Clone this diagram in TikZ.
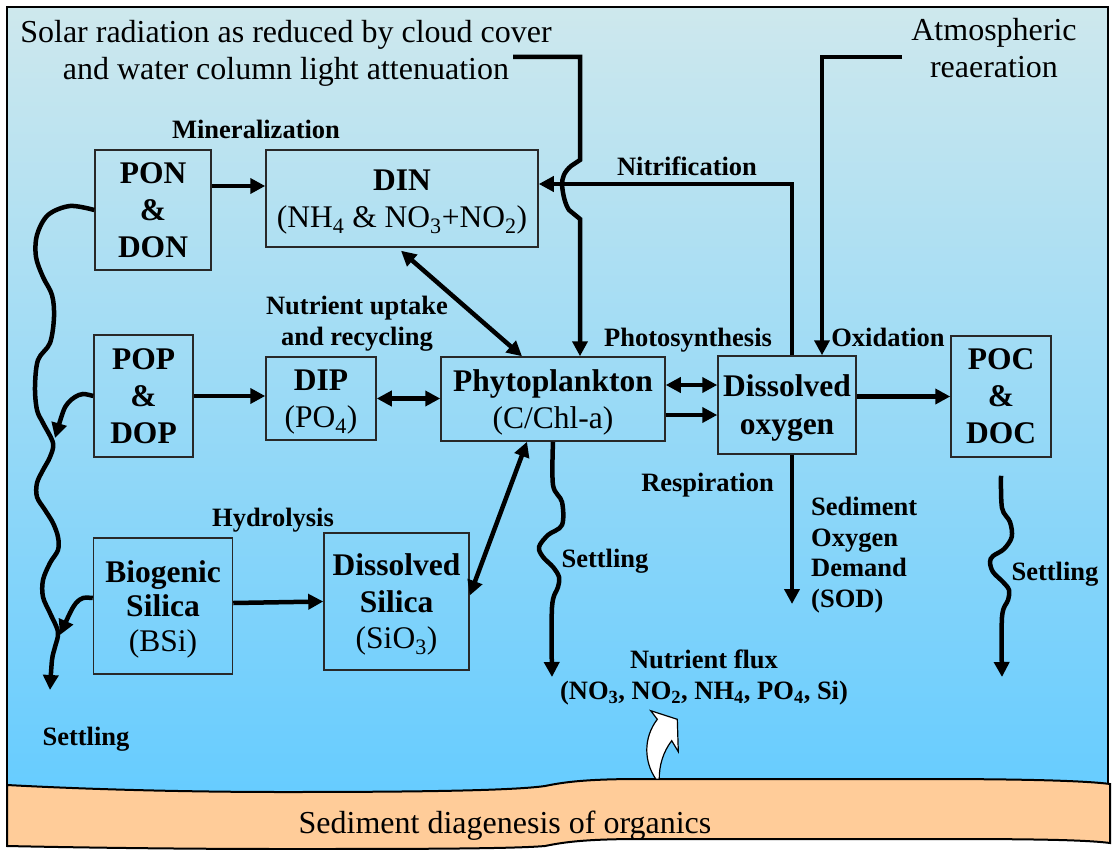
\documentclass[tikz,border=0pt]{standalone}
\usepackage{fontspec}
\setmainfont{Liberation Serif}
\usetikzlibrary{arrows.meta,calc}
\definecolor{watertop}{RGB}{206,232,237}
\definecolor{waterbot}{RGB}{102,204,255}
\definecolor{sedcol}{RGB}{255,204,153}
\definecolor{boxline}{RGB}{40,40,40}
\begin{document}
\begin{tikzpicture}[x=1pt,y=-1pt,
  mybox/.style={draw=boxline,line width=1.5pt,inner sep=0pt,align=center,text depth=0pt,font=\fontsize{31.5}{36.5}\selectfont},
  boldbox/.style={mybox,font=\bfseries\fontsize{31.5}{37}\selectfont},
  lab/.style={font=\bfseries\fontsize{26.5}{31}\selectfont,align=center,inner sep=0pt,text depth=0pt},
  big/.style={font=\fontsize{32}{37}\selectfont,align=center,inner sep=0pt,text depth=0pt},
  arr/.style={line width=4.5pt,-{Triangle[length=15pt,width=15pt]}},
  dbl/.style={line width=4.5pt,{Triangle[length=15pt,width=15pt]}-{Triangle[length=15pt,width=15pt]}},
]
\useasboundingbox (0,0) rectangle (1115,850);
% water background
\shade[top color=watertop, bottom color=waterbot] (7,7) rectangle (1108,795);
% sediment
\path[fill=sedcol, draw=black, line width=2pt] (7,785) .. controls (100,790) and (200,792) .. (284,792) .. controls (400,792) and (510,791) .. (545,786) .. controls (560,783) and (580,779) .. (640,779) -- (925,779) .. controls (1000,779) and (1080,780) .. (1110,784) -- (1110,843) .. controls (1080,839) and (1000,839) .. (925,839) -- (640,839) .. controls (580,839) and (560,843) .. (545,846) .. controls (510,849) and (400,849) .. (284,849) .. controls (200,849) and (100,848) .. (7,846) -- cycle;
\draw[line width=2.5pt] (7,785) -- (7,7) -- (1108,7) -- (1108,784);
\node[big] (sedl) at (505,822) {Sediment diagenesis of organics};

% boxes
\node[boldbox,minimum width=116pt,minimum height=120pt] (pon) at (153,210) {PON\\\&\\DON};
\node[mybox,minimum width=272pt,minimum height=97pt] (din) at (402,198.5) {\textbf{DIN}\\(NH\textsubscript{4} \& NO\textsubscript{3}+NO\textsubscript{2})};
\node[boldbox,minimum width=99pt,minimum height=122pt] (pop) at (143.5,396) {POP\\\&\\DOP};
\node[mybox,minimum width=110pt,minimum height=83pt] (dip) at (321,398.5) {\textbf{DIP}\\(PO\textsubscript{4})};
\node[mybox,minimum width=224pt,minimum height=84pt] (phyto) at (553,399) {\textbf{Phytoplankton}\\(C/Chl-a)};
\node[boldbox,font=\bfseries\fontsize{31.5}{38}\selectfont,minimum width=138pt,minimum height=98pt] (do) at (787,405) {Dissolved\\oxygen};
\node[boldbox,minimum width=100pt,minimum height=121pt] (poc) at (1001,396.5) {POC\\\&\\DOC};
\node[mybox,font=\fontsize{31.5}{34.5}\selectfont,minimum width=139pt,minimum height=136pt] (bsi) at (163,606) {\textbf{Biogenic}\\\textbf{Silica}\\(BSi)};
\node[mybox,minimum width=145pt,minimum height=137pt] (dsi) at (396.5,601.5) {\textbf{Dissolved}\\\textbf{Silica}\\(SiO\textsubscript{3})};

% labels
\node[big] (solar) at (286,50) {Solar radiation as reduced by cloud cover\\and water column light attenuation};
\node[big] (atm) at (994,48) {Atmospheric\\reaeration};
\node[lab] (minl) at (256,129) {Mineralization};
\node[lab] (nitl) at (687,166) {Nitrification};
\node[lab] (upl) at (357,321) {Nutrient uptake\\and recycling};
\node[lab] (phol) at (688,337) {Photosynthesis};
\node[lab] (oxl) at (888,337) {Oxidation};
\node[lab] (resl) at (707.5,482) {Respiration};
\node[lab] (hydl) at (273,517) {Hydrolysis};
\node[lab] (set1) at (605,558) {Settling};
\node[lab,align=left,anchor=west,font=\bfseries\fontsize{26.5}{30.5}\selectfont] (sodl) at (811,552.5) {Sediment\\Oxygen\\Demand\\(SOD)};
\node[lab] (set2) at (1055,571) {Settling};
\node[lab] (set3) at (86,736) {Settling};
\node[lab] (flux) at (704,674.5) {Nutrient flux\\(NO\textsubscript{3}, NO\textsubscript{2}, NH\textsubscript{4}, PO\textsubscript{4}, Si)};

% connectors
\coordinate (c1) at ([yshift=24pt]pon.east);
\draw[arr] (c1) -- (c1 -| din.west);
\coordinate (s0) at (513,57);
\draw[arr] (s0) -- (580,57) -- (580,160) -- (571,166) .. controls (564,172) and (562,178) .. (562,185) .. controls (563,195) and (565,204) .. (569,210) -- (580,219) -- (580,219 |- phyto.north);
\coordinate (n0) at ([xshift=5pt]do.north);
\draw[arr] (n0) -- (n0 |- 0,184) -- (din.east |- 0,184);
\coordinate (a0) at (902,57);
\draw[arr] (a0) -- (822,57) -- (822,57 |- do.north);
\draw[dbl] ([xshift=-1pt,yshift=-3pt]din.south) -- ([xshift=-31pt]phyto.north);
\draw[dbl] (dip.east) -- (dip.east -| phyto.west);
\draw[arr] (pop.east) -- (pop.east -| dip.west);
\coordinate (p1) at ([yshift=14pt]phyto.east);
\draw[dbl] (p1) -- (p1 -| do.west);
\coordinate (p2) at ([yshift=-16pt]phyto.east);
\draw[arr] (p2) -- (p2 -| do.west);
\draw[arr] (do.east |- poc.west) -- (poc.west);
\draw[arr] ([yshift=3pt]bsi.east) -- (dsi.west);
\draw[dbl] ([yshift=6pt]dsi.east) -- ([xshift=-26pt]phyto.south);
\coordinate (sod) at (792,604);
\draw[arr] ([xshift=5pt]do.south) -- (sod);

% settling wavy lines
\draw[arr] plot[smooth,tension=0.55] coordinates {(phyto.south) (553,485) (562,502) (562,525) (548,535) (539,547) (543,557) (553,567) (559,577) (558,587) (552,607) (552,677)};
\draw[arr] plot[smooth,tension=0.55] coordinates {([yshift=-18pt]poc.south) (1002,508) (1010,522) (1011.7,537) (1004,549) (993,556) (990,562) (993,572) (1003,582) (1009,590) (1008,600) (1002,617) (1002,677)};
\draw[arr] plot[smooth,tension=0.55] coordinates {(pon.west) (70,206) (48,215) (37,235) (36,257) (43,277) (52,295) (54,317) (50,343) (38,360) (35,387) (37,410) (43,423) (53,443) (50,457) (43,470) (37,483) (37,497) (45,510) (53,523) (58,537) (58,550) (50,563) (43,580) (43,597) (50,613) (58,632) (55,647) (52,660) (50,690)};
\draw[arr] plot[smooth,tension=0.55] coordinates {(pop.west) (83,394) (75,397) (68,403) (63,412) (55,438)};
\draw[arr] plot[smooth,tension=0.55] coordinates {([yshift=8pt]bsi.west) (83,598) (76,603) (70,613) (60,635)};

% white flux arrow
\draw[fill=white, line width=1.2pt, line join=miter] (650.7,710.7) -- (677.3,719.3) -- (678.3,751.7) -- (671.7,740.7) .. controls (663,752) and (659,766) .. (659.3,779.3) -- (656,779.3) .. controls (644,762) and (643,738) .. (657.3,719.3) -- cycle;
\end{tikzpicture}
\end{document}
